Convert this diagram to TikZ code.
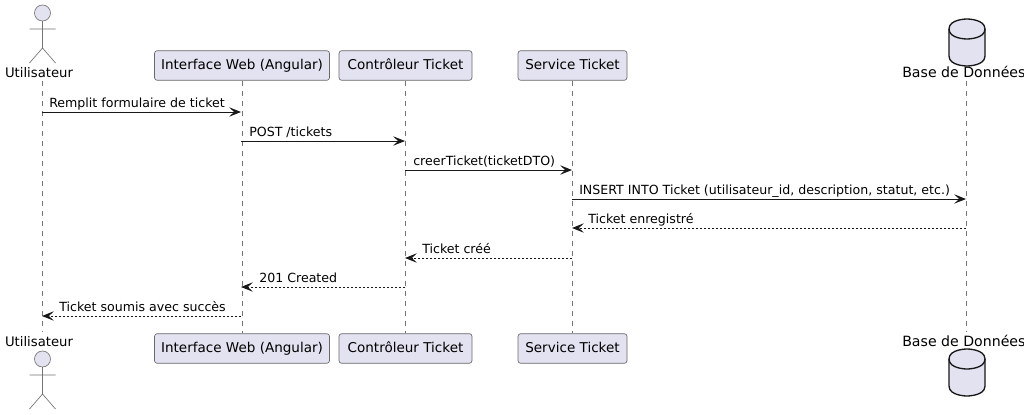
\documentclass[tikz,border=0pt]{standalone}
\usepackage{fontspec}
\setmainfont{DejaVu Sans}
\usetikzlibrary{arrows.meta}
\definecolor{pfill}{HTML}{E2E2F0}
\definecolor{pline}{HTML}{181818}
\tikzset{
  x=0.75pt,y=-0.75pt,
  pbox/.style={draw=pline!65,line width=0.5pt,fill=pfill,rounded corners=2pt,minimum height=22.2pt,inner sep=0pt,text height=7.9pt,text depth=2.2pt,font=\fontsize{10.15}{12}\selectfont,text=black},
  plabel/.style={inner sep=0pt,text height=7.9pt,text depth=0pt,font=\fontsize{9.9}{12}\selectfont,text=black,anchor=center},
  dblabel/.style={inner sep=0pt,text height=7.9pt,text depth=0pt,font=\fontsize{10.6}{12}\selectfont,text=black,anchor=west},
  msgtext/.style={inner sep=0pt,font=\fontsize{9.45}{12}\selectfont,text=black,anchor=base west},
  life/.style={draw=pline!60,line width=0.5pt,dash pattern=on 3.75pt off 3.75pt},
  figure/.style={draw=pline!60,line width=0.5pt},
  dbshape/.style={draw=pline,line width=1pt,fill=pfill},
  req/.style={draw=pline,line width=0.7pt,-{Stealth[length=8.8pt,width=7pt,inset=3.6pt]}},
  rep/.style={draw=pline,line width=0.7pt,dash pattern=on 1.5pt off 1.5pt,-{Stealth[length=8.8pt,width=7pt,inset=3.6pt]}}
}
\newcommand{\stick}[2]{%
  \draw[figure,fill=pfill] (#1,#2) circle (6pt);
  \draw[figure] (#1,#2+8) -- (#1,#2+35) (#1-13,#2+16) -- (#1+13,#2+16)
    (#1-13,#2+50) -- (#1,#2+35) -- (#1+13,#2+50);}
\newcommand{\dbcyl}[2]{%
  \draw[dbshape] (#1-18,#2+10) .. controls (#1-18,#2) and (#1,#2) .. (#1,#2)
    .. controls (#1,#2) and (#1+18,#2) .. (#1+18,#2+10) -- (#1+18,#2+37)
    .. controls (#1+18,#2+47) and (#1,#2+47) .. (#1,#2+47)
    .. controls (#1,#2+47) and (#1-18,#2+47) .. (#1-18,#2+37) -- cycle;
  \draw[dbshape,fill=none] (#1-18,#2+10) .. controls (#1-18,#2+20) and (#1,#2+20) .. (#1,#2+20)
    .. controls (#1,#2+20) and (#1+18,#2+20) .. (#1+18,#2+10);}
\begin{document}
\begin{tikzpicture}
\useasboundingbox[fill=white] (0,0) rectangle (1024,414);
\clip (0,0) rectangle (1024,414);
\node[plabel] (uT) at (39,72) {Utilisateur};
\node[plabel] (uB) at (39,341) {Utilisateur};
\node[pbox,minimum width=131.25pt] (iT) at (242,65.5) {Interface Web (Angular)};
\node[pbox,minimum width=131.25pt] (iB) at (242,348.5) {Interface Web (Angular)};
\node[pbox,minimum width=99.75pt] (cT) at (405.5,65.5) {Contrôleur Ticket};
\node[pbox,minimum width=99.75pt] (cB) at (405.5,348.5) {Contrôleur Ticket};
\node[pbox,minimum width=81.75pt] (sT) at (572.5,65.5) {Service Ticket};
\node[pbox,minimum width=81.75pt] (sB) at (572.5,348.5) {Service Ticket};
\node[dblabel] (dT) at (902,72) {Base de Données};
\node[dblabel] (dB) at (902,341) {Base de Données};
\coordinate (uTl) at (42,81); \coordinate (uBl) at (42,332);
\coordinate (dTl) at (966,81); \coordinate (dBl) at (966,332);
\draw[life] (uTl) -- (uBl);
\draw[life] (iT) -- (iB);
\draw[life] (cT) -- (cB);
\draw[life] (sT) -- (sB);
\draw[life] (dTl) -- (dBl);
\stick{42.5}{13}
\stick{42.5}{359}
\dbcyl{967}{19}
\dbcyl{967}{349}
\foreach \n/\y in {a/112,b/141,c/170,d/199,e/228,f/258,g/287,h/316}{
  \coordinate (u\n) at (42,\y);
  \coordinate (i\n) at (241,\y);
  \coordinate (c\n) at (405,\y);
  \coordinate (s\n) at (572,\y);
  \coordinate (d\n) at (966,\y);
}
\draw[req] (ua) -- (ia);
\draw[req] (ib) -- (cb);
\draw[req] (cc) -- (sc);
\draw[req] (sd) -- (dd);
\draw[rep] (de) -- (se);
\draw[rep] (sf) -- (cf);
\draw[rep] (cg) -- (ig);
\draw[rep] (ih) -- (uh);
\node[msgtext] (ta) at (49,107) {Remplit formulaire de ticket};
\node[msgtext] (tb) at (249,136) {POST /tickets};
\node[msgtext] (tc) at (413,165) {creerTicket(ticketDTO)};
\node[msgtext] (td) at (579,194) {INSERT INTO Ticket (utilisateur\_id, description, statut, etc.)};
\node[msgtext] (te) at (588,223) {Ticket enregistré};
\node[msgtext] (tf) at (422,253) {Ticket créé};
\node[msgtext] (tg) at (259,282) {201 Created};
\node[msgtext] (th) at (59,311) {Ticket soumis avec succès};
\end{tikzpicture}
\end{document}
